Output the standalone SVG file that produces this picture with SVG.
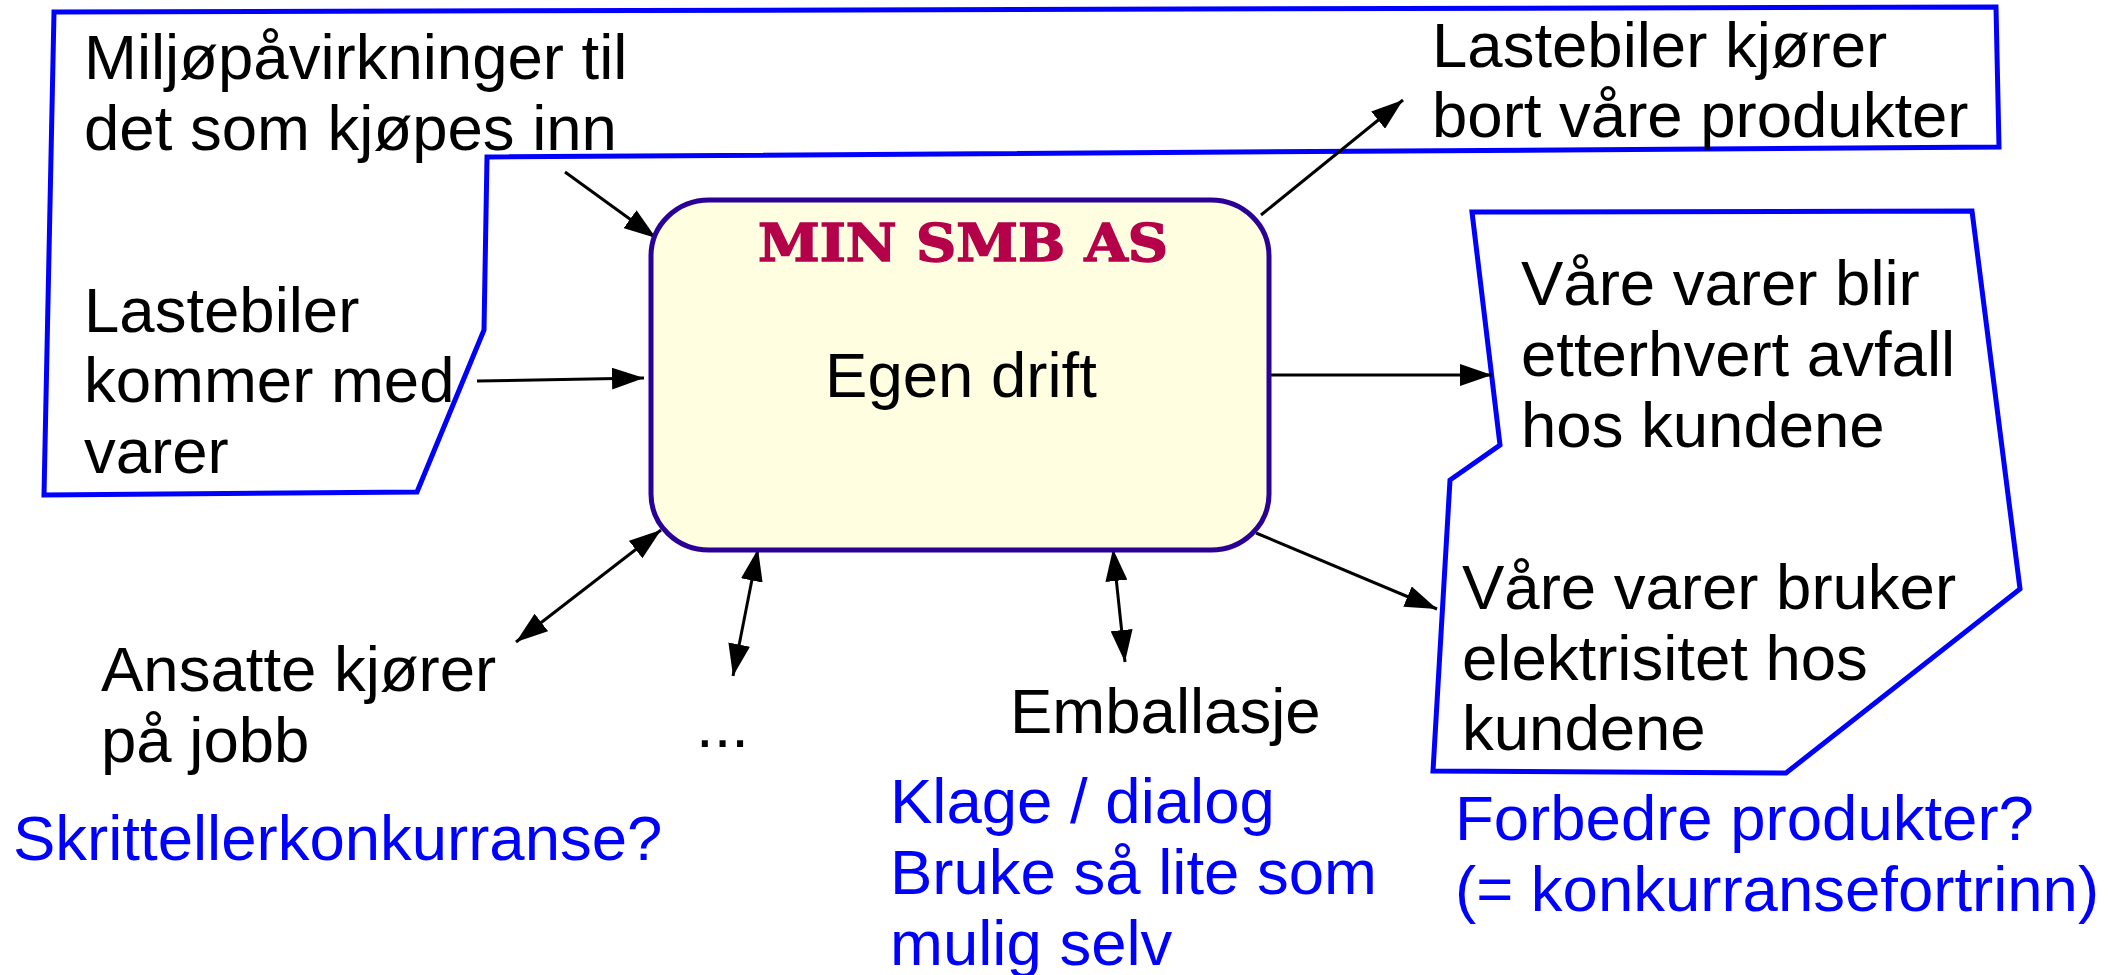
<svg xmlns="http://www.w3.org/2000/svg" width="2116" height="975" viewBox="0 0 2116 975">
<style>
.t{font-family:"Liberation Sans",Arial,sans-serif;font-size:63.5px;fill:#000}
.b{font-family:"Liberation Sans",Arial,sans-serif;font-size:63.5px;fill:#0000ff}
.frame{fill:none;stroke:#0000ff;stroke-width:5;stroke-linejoin:miter}
.c{stroke:#000;stroke-width:3;fill:none}
</style>
<defs>
<marker id="ah" markerUnits="userSpaceOnUse" markerWidth="32" markerHeight="22" refX="32" refY="11" orient="auto-start-reverse" viewBox="0 0 32 22">
<path d="M0,0 L32,11 L0,22 z" fill="#000"/>
</marker>
</defs>
<rect width="2116" height="975" fill="#fff"/>
<g id="frame-left">
<path class="frame" d="M54,12 L1996,7 L1999,147 L487,157 L484,330 L417,492 L44,495 Z"/>
</g>
<g id="frame-right">
<path class="frame" d="M1472,212 L1972,211 L2020,589 L1786,773 L1433,771 L1450,480 L1500,445 Z"/>
</g>
<g id="connectors">
<line class="c" x1="565" y1="172" x2="656" y2="238" marker-end="url(#ah)"/>
<line class="c" x1="477" y1="381" x2="644" y2="378" marker-end="url(#ah)"/>
<line class="c" x1="1261" y1="215" x2="1403" y2="100" marker-end="url(#ah)"/>
<line class="c" x1="1269" y1="375" x2="1492" y2="375" marker-end="url(#ah)"/>
<line class="c" x1="1256" y1="533" x2="1437" y2="609" marker-end="url(#ah)"/>
<line class="c" x1="1113" y1="549" x2="1125" y2="662" marker-start="url(#ah)" marker-end="url(#ah)"/>
<line class="c" x1="758" y1="549" x2="733" y2="676" marker-start="url(#ah)" marker-end="url(#ah)"/>
<line class="c" x1="661" y1="530" x2="516" y2="642" marker-start="url(#ah)" marker-end="url(#ah)"/>
</g>
<g id="main">
<rect x="651" y="200" width="618" height="350" rx="58" ry="56" fill="#fffee0" stroke="#2a0096" stroke-width="5"/>
<text x="758" y="261" font-family="'DejaVu Serif','Liberation Serif',serif" font-weight="bold" font-size="52" fill="#b5004a" stroke="#b5004a" stroke-width="1.5" textLength="410" lengthAdjust="spacingAndGlyphs">MIN SMB AS</text>
<text class="t" x="961" y="397" text-anchor="middle">Egen drift</text>
</g>
<g id="inputs-purchase">
<text class="t" x="84" y="79">Miljøpåvirkninger til</text>
<text class="t" x="84" y="150">det som kjøpes inn</text>
</g>
<g id="inputs-trucks">
<text class="t" x="84" y="332">Lastebiler</text>
<text class="t" x="84" y="402">kommer med</text>
<text class="t" x="84" y="473">varer</text>
</g>
<g id="outputs-trucks">
<text class="t" x="1432" y="67">Lastebiler kjører</text>
<text class="t" x="1432" y="137">bort våre produkter</text>
</g>
<g id="waste">
<text class="t" x="1521" y="305">Våre varer blir</text>
<text class="t" x="1521" y="376">etterhvert avfall</text>
<text class="t" x="1521" y="447">hos kundene</text>
</g>
<g id="electricity">
<text class="t" x="1462" y="609">Våre varer bruker</text>
<text class="t" x="1462" y="680">elektrisitet hos</text>
<text class="t" x="1462" y="750">kundene</text>
</g>
<g id="employees">
<text class="t" x="101" y="691">Ansatte kjører</text>
<text class="t" x="101" y="762">på jobb</text>
</g>
<g id="etc">
<text class="t" x="696" y="747">...</text>
</g>
<g id="packaging">
<text class="t" x="1010" y="733">Emballasje</text>
</g>
<g id="note-steps">
<text class="b" x="13" y="860">Skrittellerkonkurranse?</text>
</g>
<g id="note-packaging">
<text class="b" x="890" y="823">Klage / dialog</text>
<text class="b" x="890" y="894">Bruke så lite som</text>
<text class="b" x="890" y="965">mulig selv</text>
</g>
<g id="note-products">
<text class="b" x="1455" y="840">Forbedre produkter?</text>
<text class="b" x="1455" y="911">(= konkurransefortrinn)</text>
</g>
</svg>
